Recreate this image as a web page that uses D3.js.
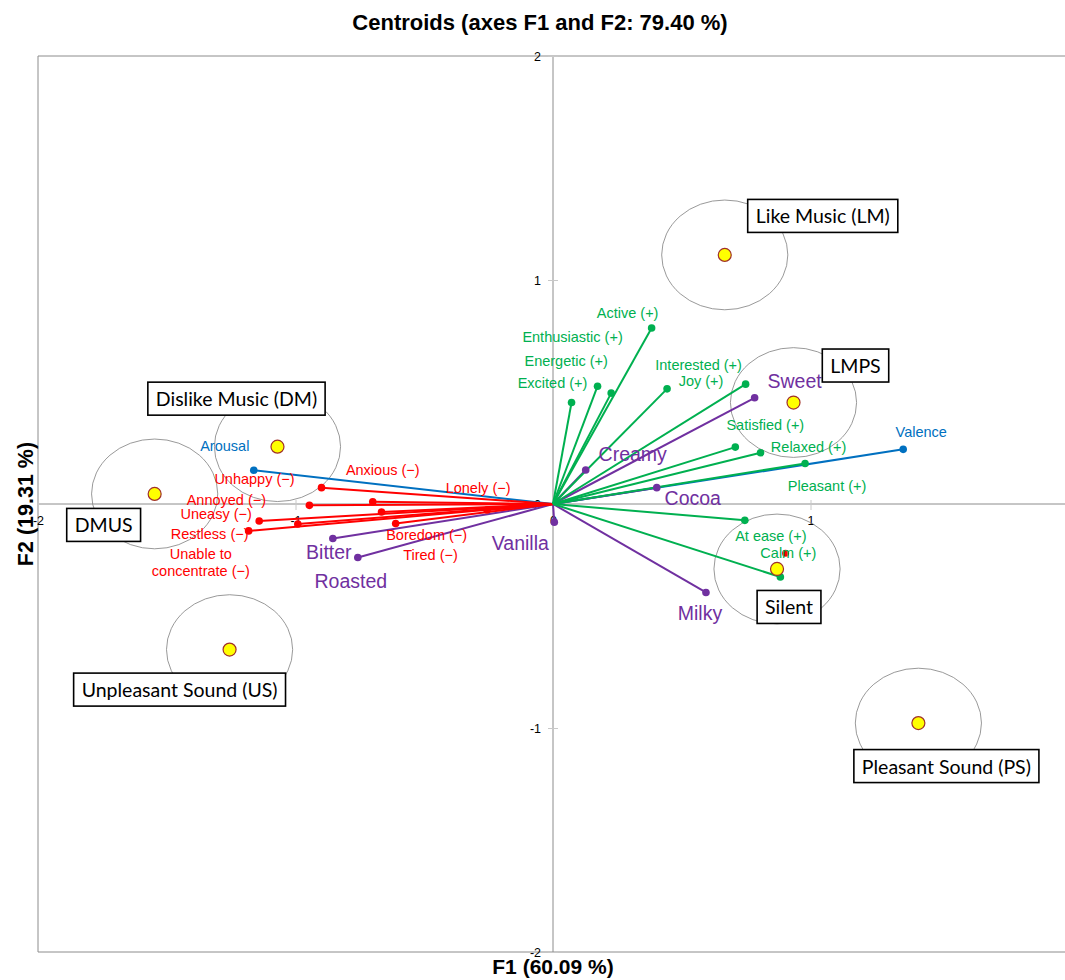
<!DOCTYPE html>
<html>
<head>
<meta charset="utf-8">
<script src="https://cdn.jsdelivr.net/npm/d3@7"></script>
<style>
  html, body { margin: 0; padding: 0; background: #fff; }
  svg { display: block; }
</style>
</head>
<body>
<svg id="chart" width="1065" height="980"></svg>
<script>
// ---------- DATA ----------
const centroidNames = ["Like Music (LM)", "LMPS", "Dislike Music (DM)", "DMUS", "Unpleasant Sound (US)", "Silent", "Pleasant Sound (PS)"];
const centroidF1 = [0.667, 0.934, -1.070, -1.547, -1.256, 0.870, 1.419];
const centroidF2 = [1.112, 0.453, 0.256, 0.045, -0.650, -0.290, -0.978];
const centroidRadius = 0.245;

const positiveNames = ["Active (+)", "Enthusiastic (+)", "Energetic (+)", "Excited (+)", "Interested (+)", "Joy (+)", "Satisfied (+)", "Relaxed (+)", "Pleasant (+)", "At ease (+)", "Calm (+)"];
const positiveF1 = [0.383, 0.173, 0.226, 0.072, 0.748, 0.443, 0.708, 0.806, 0.979, 0.745, 0.883];
const positiveF2 = [0.786, 0.526, 0.495, 0.453, 0.535, 0.514, 0.254, 0.229, 0.181, -0.073, -0.326];

const negativeNames = ["Unhappy (−)", "Annoyed (−)", "Anxious (−)", "Lonely (−)", "Tired (−)", "Boredom (−)", "Uneasy (−)", "Unable to\nconcentrate (−)", "Restless (−)"];
const negativeF1 = [-0.899, -0.946, -0.700, -0.256, -0.666, -0.611, -1.141, -0.991, -1.182];
const negativeF2 = [0.073, -0.006, 0.010, -0.027, -0.036, -0.087, -0.076, -0.089, -0.120];

const dimensionNames = ["Valence", "Arousal"];
const dimensionF1 = [1.360, -1.162];
const dimensionF2 = [0.244, 0.151];

const flavorNames = ["Creamy", "Sweet", "Cocoa", "Milky", "Vanilla", "Bitter", "Roasted"];
const flavorF1 = [0.127, 0.783, 0.403, 0.594, 0.005, -0.855, -0.758];
const flavorF2 = [0.152, 0.474, 0.073, -0.395, -0.081, -0.154, -0.239];

const extraMarkF1 = [0.903];
const extraMarkF2 = [-0.220];

const xTicks = [-2, -1, 0, 1];
const yTicks = [-2, -1, 0, 1, 2];

// ---------- LAYOUT (label offsets in px, relative to the point) ----------
const labelOffset = {
  "Active (+)": [-24, -10], "Enthusiastic (+)": [-25, -44], "Energetic (+)": [-45, -27],
  "Excited (+)": [-19, -15], "Interested (+)": [-47, -14], "Joy (+)": [34, -3],
  "Satisfied (+)": [30, -17], "Relaxed (+)": [48, -1], "Pleasant (+)": [22, 28],
  "At ease (+)": [26, 21], "Calm (+)": [8, -19],
  "Unhappy (−)": [-67, -4], "Annoyed (−)": [-83, 0], "Anxious (−)": [10, -27],
  "Lonely (−)": [-9, -17], "Tired (−)": [49, 48], "Boredom (−)": [31, 17],
  "Uneasy (−)": [-43, -2], "Unable to\nconcentrate (−)": [-97, 35], "Restless (−)": [-39, 8],
  "Valence": [18, -12], "Arousal": [-29, -19],
  "Creamy": [47, -9], "Sweet": [40, -10], "Cocoa": [36, 17], "Milky": [-6, 28],
  "Vanilla": [-34, 28], "Bitter": [-4, 21], "Roasted": [-7, 30]
};
const boxOffset = {
  "Like Music (LM)": [98, -39], "LMPS": [62, -37], "Dislike Music (DM)": [-41, -48],
  "DMUS": [-51, 31], "Unpleasant Sound (US)": [-50, 40], "Silent": [12, 38],
  "Pleasant Sound (PS)": [28, 43]
};

// ---------- CHART ----------
const svg = d3.select("#chart");
const x = d3.scaleLinear().domain([-2, 2]).range([38, 1068]);
const y = d3.scaleLinear().domain([-2, 2]).range([952, 56]);

const colors = { pos: "#00B050", neg: "#FF0000", dim: "#0070C0", flav: "#7030A0" };
const sans = "Liberation Sans, Arial, sans-serif";

// title
svg.append("text").attr("x", 540).attr("y", 30).attr("text-anchor", "middle")
  .attr("font-family", sans).attr("font-weight", "bold")
  .attr("font-size", 22).text("Centroids (axes F1 and F2: 79.40 %)");

// frame
svg.append("path")
  .attr("d", `M${x(2)},${y(2)} H${x(-2)} V${y(-2)} H${x(2)}`)
  .attr("fill", "none").attr("stroke", "#8c8c8c").attr("stroke-width", 1);

// axis lines through origin
svg.append("line").attr("x1", x(-2)).attr("x2", x(2)).attr("y1", y(0)).attr("y2", y(0))
  .attr("stroke", "#8c8c8c").attr("stroke-width", 1);
svg.append("line").attr("x1", x(0)).attr("x2", x(0)).attr("y1", y(2)).attr("y2", y(-2))
  .attr("stroke", "#8c8c8c").attr("stroke-width", 1);

const tickFmt = d => String(d);

// F1 ticks
const xAxis = svg.append("g").attr("transform", `translate(0,${y(0)})`)
  .call(d3.axisBottom(x).tickValues(xTicks).tickSize(6).tickFormat(tickFmt));
xAxis.select(".domain").remove();
xAxis.selectAll(".tick line").attr("y1", -4).attr("y2", 6).attr("stroke", "#c8c8c8");
xAxis.selectAll(".tick text").attr("y", 12).attr("font-size", 12.5)
  .attr("font-family", sans).attr("fill", "#000");

// F2 ticks
const yAxis = svg.append("g").attr("transform", `translate(${x(0)},0)`)
  .call(d3.axisLeft(y).tickValues(yTicks).tickSize(5).tickFormat(tickFmt));
yAxis.select(".domain").remove();
yAxis.selectAll(".tick line").attr("x1", -5).attr("x2", 5).attr("stroke", "#c8c8c8");
yAxis.selectAll(".tick text").attr("x", -12).attr("font-size", 12.5)
  .attr("font-family", sans).attr("fill", "#000");

// axis titles
svg.append("text").attr("x", 553).attr("y", 974).attr("text-anchor", "middle")
  .attr("font-family", sans).attr("font-weight", "bold")
  .attr("font-size", 21).text("F1 (60.09 %)");
svg.append("text").attr("transform", `translate(33,${y(0)}) rotate(-90)`).attr("text-anchor", "middle")
  .attr("font-family", sans).attr("font-weight", "bold")
  .attr("font-size", 21.5).text("F2 (19.31 %)");

// centroid data
const centroids = centroidNames.map((n, i) => ({ name: n, f1: centroidF1[i], f2: centroidF2[i] }));

// confidence circles
svg.append("g").selectAll("ellipse").data(centroids).join("ellipse")
  .attr("cx", d => x(d.f1)).attr("cy", d => y(d.f2))
  .attr("rx", d => x(d.f1 + centroidRadius) - x(d.f1))
  .attr("ry", d => y(d.f2) - y(d.f2 + centroidRadius))
  .attr("fill", "none").attr("stroke", "#7f7f7f").attr("stroke-width", 0.8);

// vectors
function makeGroup(names, f1, f2, key) {
  return names.map((n, i) => ({ name: n, f1: f1[i], f2: f2[i], key }));
}
const dims = makeGroup(dimensionNames, dimensionF1, dimensionF2, "dim");
const flavs = makeGroup(flavorNames, flavorF1, flavorF2, "flav");
const negs = makeGroup(negativeNames, negativeF1, negativeF2, "neg");
const poss = makeGroup(positiveNames, positiveF1, positiveF2, "pos");
const allVec = [...dims, ...flavs, ...negs, ...poss];

svg.append("g").selectAll("line").data(allVec).join("line")
  .attr("x1", x(0)).attr("y1", y(0))
  .attr("x2", d => x(d.f1)).attr("y2", d => y(d.f2))
  .attr("stroke", d => colors[d.key]).attr("stroke-width", 2);

svg.append("g").selectAll("circle").data(allVec).join("circle")
  .attr("cx", d => x(d.f1)).attr("cy", d => y(d.f2)).attr("r", 3.8)
  .attr("fill", d => colors[d.key]);

svg.append("g").selectAll("circle").data(extraMarkF1.map((v, i) => ({ f1: v, f2: extraMarkF2[i] }))).join("circle")
  .attr("cx", d => x(d.f1)).attr("cy", d => y(d.f2)).attr("r", 3.5).attr("fill", colors.neg);

// vector labels
const labG = svg.append("g").attr("font-family", sans);
allVec.forEach(d => {
  const off = labelOffset[d.name] || [0, -8];
  const t = labG.append("text")
    .attr("x", x(d.f1) + off[0]).attr("y", y(d.f2) + off[1])
    .attr("text-anchor", "middle")
    .attr("fill", colors[d.key])
    .attr("font-size", d.key === "flav" ? 19.5 : 14.5);
  const lines = d.name.split("\n");
  lines.forEach((ln, i) => {
    t.append("tspan").attr("x", x(d.f1) + off[0]).attr("dy", i === 0 ? 0 : 17.5).text(ln);
  });
});

// centroid markers
svg.append("g").selectAll("circle").data(centroids).join("circle")
  .attr("cx", d => x(d.f1)).attr("cy", d => y(d.f2)).attr("r", 6.5)
  .attr("fill", "#FFFF00").attr("stroke", "#A0302A").attr("stroke-width", 1.2);

// centroid boxed labels
const boxG = svg.append("g");
centroids.forEach(d => {
  const off = boxOffset[d.name];
  const cx = x(d.f1) + off[0], cy = y(d.f2) + off[1];
  const g = boxG.append("g");
  const rect = g.append("rect");
  const t = g.append("text").attr("x", cx).attr("y", cy).attr("text-anchor", "middle")
    .attr("dominant-baseline", "central")
    .attr("font-family", "Lato, 'Open Sans', sans-serif").attr("font-size", 19.5)
    .attr("fill", "#000").text(d.name);
  const bb = t.node().getBBox();
  const pad = 8, h = 33;
  rect.attr("x", bb.x - pad).attr("y", cy - h / 2).attr("width", bb.width + 2 * pad).attr("height", h)
    .attr("fill", "#fff").attr("stroke", "#000").attr("stroke-width", 1.6);
});
</script>
</body>
</html>
